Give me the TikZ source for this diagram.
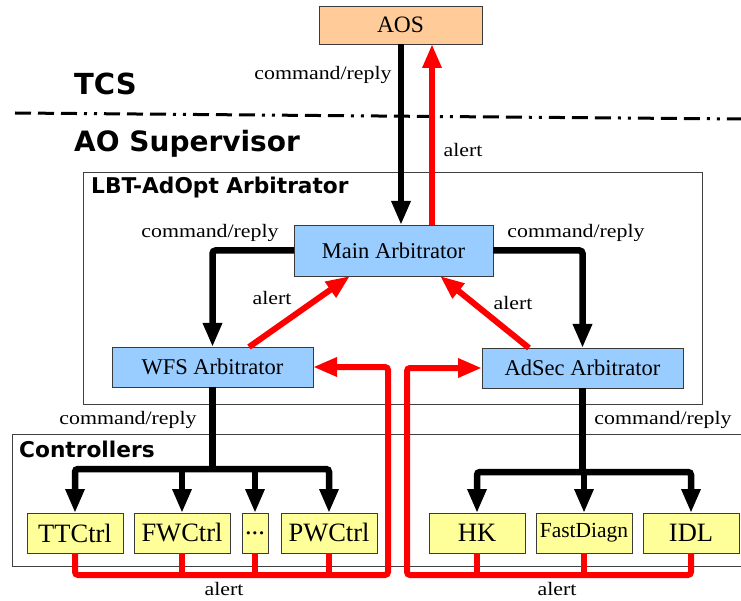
\documentclass[tikz,border=0pt]{standalone}
\usepackage{fontspec}
\setmainfont{Liberation Serif}
\newfontfamily\labfont[FakeStretch=1.15]{Liberation Serif}
\newfontfamily\headfont{DejaVu Sans}
\usetikzlibrary{arrows.meta,calc}

\definecolor{aosfill}{HTML}{FFCC99}
\definecolor{arbfill}{HTML}{99CCFF}
\definecolor{ctlfill}{HTML}{FFFF99}
\definecolor{boxline}{HTML}{3A3A3A}
\definecolor{frameline}{HTML}{404040}
\definecolor{alertred}{HTML}{FF0000}

\tikzset{
  box/.style={draw=boxline, line width=0.9pt, inner sep=0pt, outer sep=0pt,
    font=\fontsize{22.5}{24}\selectfont},
  aosbox/.style={box, fill=aosfill, minimum width=163pt, minimum height=38pt,
    font=\fontsize{23.5}{25}\selectfont},
  arbbox/.style={box, fill=arbfill, minimum height=40pt},
  ctlbox/.style={box, fill=ctlfill, minimum width=96pt, minimum height=40pt,
    font=\fontsize{26.5}{28}\selectfont},
  lab/.style={font=\labfont\fontsize{19}{20}\selectfont, inner sep=0pt, anchor=base},
  head/.style={font=\headfont\bfseries\fontsize{28}{30}\selectfont, inner sep=0pt,
    anchor=base west},
  subhead/.style={head, font=\headfont\bfseries\fontsize{21.7}{24}\selectfont},
  frame/.style={draw=frameline, line width=1pt},
  cmd/.style={line width=6.5pt, black},
  alrt/.style={line width=6pt, alertred},
  arrowend/.style={-{Triangle[width=18pt,length=24pt]}},
  bothends/.style={{Triangle[width=18pt,length=24pt]}-{Triangle[width=18pt,length=24pt]}},
}

\begin{document}
\begin{tikzpicture}[x=1pt,y=-1pt]
\path[use as bounding box] (0,0) rectangle (741,601);
\clip (0,0) rectangle (741,601);

% layer labels and the boundary between TCS and the AO supervisor
\node[head, font=\headfont\bfseries\fontsize{29}{31}\selectfont] (tcs) at (74,95) {TCS};
\node[head] (aosup) at (74,152) {AO Supervisor};
\coordinate (dl) at (15,113);
\coordinate (dr) at (741,119);
\draw[line width=3pt, dash pattern=on 16pt off 7pt on 16pt off 7pt on 16pt off 7pt on 3pt off 7pt on 3pt off 7pt] (dl) -- (dr);

% group frames
\draw[frame] (83,173) rectangle (702,404);
\node[subhead] (lbt) at (91,194) {LBT-AdOpt Arbitrator};
\draw[frame] (12,434) rectangle (760,566);
\node[subhead] (ctl) at (19,457) {Controllers};

% components
\node[aosbox] (aos) at (400.5,25) {AOS};
\node[arbbox, minimum width=199pt, minimum height=51pt] (main) at (393.5,250.5) {Main Arbitrator};
\node[arbbox, minimum width=201pt] (wfs) at (212.5,367) {WFS Arbitrator};
\node[arbbox, minimum width=201pt] (adsec) at (582.5,368) {AdSec Arbitrator};

\node[ctlbox] (ttc) at (75,533) {TTCtrl};
\node[ctlbox] (fwc) at (182,533) {FWCtrl};
\node[ctlbox, minimum width=26pt] (dots) at (255,533) {...};
\node[ctlbox] (pwc) at (329,533) {PWCtrl};
\node[ctlbox] (hk) at (477,533) {HK};
\node[ctlbox, font=\fontsize{21.5}{23}\selectfont] (fd) at (584,533) {FastDiagn};
\node[ctlbox] (idl) at (691,533) {IDL};

% routing helpers
\coordinate (xcmd) at (401,0);
\coordinate (xalr) at (432,0);
\coordinate (yb1) at (0,469);
\coordinate (yb2) at (0,472);
\coordinate (yr) at (0,575);
\coordinate (xl) at (388,0);
\coordinate (xr) at (407,0);

% AOS <-> main arbitrator
\draw[cmd, arrowend] (aos.south -| xcmd) -- (main.north -| xcmd);
\draw[alrt, arrowend] (main.north -| xalr) -- (aos.south -| xalr);
\node[lab] (l1) at (323,80) {command/reply};
\node[lab] (l2) at (463,157) {alert};

% main arbitrator -> sub arbitrators
\draw[cmd, arrowend, rounded corners=3pt] (main.west) -- (wfs.north |- main.west) -- (wfs.north);
\draw[cmd, arrowend, rounded corners=3pt] (main.east) -- (adsec.north |- main.east) -- (adsec.north);
\node[lab] (l3) at (210,238) {command/reply};
\node[lab] (l4) at (576,238) {command/reply};

% sub arbitrators -> main arbitrator alerts
\draw[alrt, arrowend] ($(wfs.north west)+(137,0)$) -- ($(main.south west)+(56,0)$);
\draw[alrt, arrowend] ($(adsec.north west)+(47,0)$) -- ($(main.south west)+(146,0)$);
\node[lab] (l5) at (272,305) {alert};
\node[lab] (l6) at (513,309) {alert};

% WFS arbitrator -> controllers
\draw[cmd] (wfs.south) -- (wfs.south |- yb1);
\draw[cmd, bothends, rounded corners=3pt] (ttc.north) -- (ttc.north |- yb1) -- (pwc.north |- yb1) -- (pwc.north);
\draw[cmd, arrowend] (fwc.north |- yb1) -- (fwc.north);
\draw[cmd, arrowend] (dots.north |- yb1) -- (dots.north);
\node[lab] (l7) at (128,424) {command/reply};

% AdSec arbitrator -> controllers
\draw[cmd] (adsec.south) -- (adsec.south |- yb2);
\draw[cmd, bothends, rounded corners=3pt] (hk.north) -- (hk.north |- yb2) -- (idl.north |- yb2) -- (idl.north);
\draw[cmd, arrowend] (fd.north |- yb2) -- (fd.north);
\node[lab] (l8) at (663,424) {command/reply};

% controller alerts back to the arbitrators
\draw[alrt, arrowend, rounded corners=3pt] (ttc.south) -- (ttc.south |- yr) -- (xl |- yr) -- (xl |- wfs.east) -- (wfs.east);
\draw[alrt] (fwc.south) -- (fwc.south |- yr);
\draw[alrt] (dots.south) -- (dots.south |- yr);
\draw[alrt] (pwc.south) -- (pwc.south |- yr);
\node[lab] (l9) at (224,595) {alert};

\draw[alrt, arrowend, rounded corners=3pt] (idl.south) -- (idl.south |- yr) -- (xr |- yr) -- (xr |- adsec.west) -- (adsec.west);
\draw[alrt] (hk.south) -- (hk.south |- yr);
\draw[alrt] (fd.south) -- (fd.south |- yr);
\node[lab] (l10) at (557,595) {alert};
\end{tikzpicture}
\end{document}
